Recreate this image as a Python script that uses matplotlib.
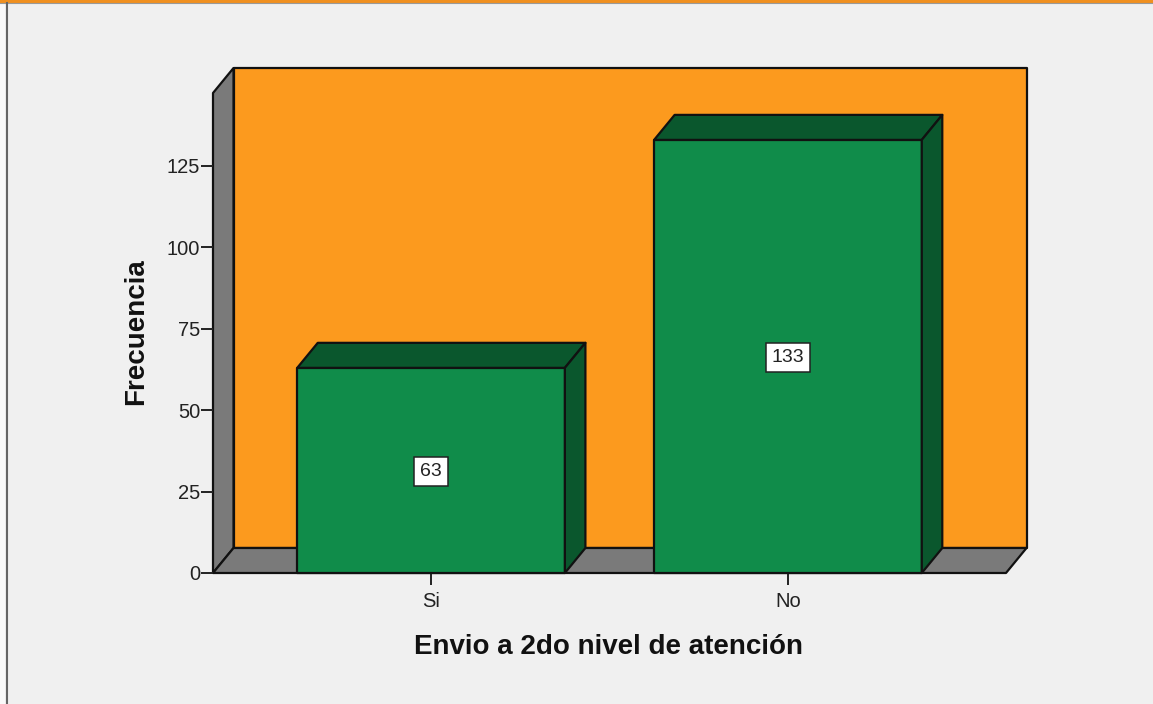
import matplotlib
matplotlib.use('Agg')
import matplotlib.pyplot as plt
from matplotlib.patches import Polygon
from matplotlib.lines import Line2D

categories = ['Si', 'No']
counts = [63, 133]
y_ticks = [0, 25, 50, 75, 100, 125]

plt.rcParams['font.family'] = ['Liberation Sans', 'DejaVu Sans']

W, H = 1153, 704
ORANGE = '#FC9A1E'
GREEN = '#108C4A'
DARK_GREEN = '#0A572D'
GREY = '#7A7A7A'
BG = '#F0F0F0'
TEXT = '#222222'

fig = plt.figure(figsize=(W / 100, H / 100), dpi=100, facecolor=BG)

# front plane of the 3D box, in figure pixels
left, right, bottom, top = 213, 1006, 573, 93
ax = fig.add_axes([left / W, (H - bottom) / H, (right - left) / W, (bottom - top) / H])
ax.set_xlim(-0.611, 1.611)
ax.set_ylim(0, 147.4)
ax.patch.set_visible(False)
for s in ax.spines.values():
    s.set_visible(False)

# depth of the box
dx = 0.0575
dy = 7.68
x0, x1 = ax.get_xlim()
y0, y1 = ax.get_ylim()
edge = dict(edgecolor='#111111', linewidth=1.6, clip_on=False, joinstyle='round')


def poly(points, color, z):
    ax.add_patch(Polygon(points, closed=True, facecolor=color, zorder=z, **edge))


# walls and floor
poly([(x0 + dx, y0 + dy), (x1 + dx, y0 + dy), (x1 + dx, y1 + dy), (x0 + dx, y1 + dy)], ORANGE, 1)
poly([(x0, y0), (x0 + dx, y0 + dy), (x0 + dx, y1 + dy), (x0, y1)], GREY, 1)
poly([(x0, y0), (x1, y0), (x1 + dx, y0 + dy), (x0 + dx, y0 + dy)], GREY, 1)

# bars with top and side faces
bar_w = 0.75
for i, n in enumerate(counts):
    a, b = i - bar_w / 2, i + bar_w / 2
    poly([(a, 0), (b, 0), (b, n), (a, n)], GREEN, 3)
    poly([(a, n), (b, n), (b + dx, n + dy), (a + dx, n + dy)], DARK_GREEN, 3)
    poly([(b, 0), (b + dx, dy), (b + dx, n + dy), (b, n)], DARK_GREEN, 3)
    ax.text(i, n / 2 + 0.3, str(n), ha='center', va='center_baseline', fontsize=14, color=TEXT, zorder=5,
            bbox=dict(boxstyle='square,pad=0.3', facecolor='white', edgecolor='#222222', linewidth=1.1))

ax.set_xticks(range(len(categories)))
ax.set_xticklabels(categories)
ax.set_yticks(y_ticks)
ax.tick_params(axis='both', length=8.8, width=1.4, color='#222222', labelcolor=TEXT, labelsize=14.5)
ax.tick_params(axis='x', pad=5)
ax.tick_params(axis='y', pad=0.5)

fig.text(608.5 / W, 1 - 647 / H, 'Envio a 2do nivel de atención', ha='center', va='center',
         fontsize=20, fontweight='bold', color='#111111')
fig.text(136 / W, 1 - 332 / H, 'Frecuencia', ha='center', va='center', rotation=90,
         fontsize=20, fontweight='bold', color='#111111')

# window border along the top and left
fig.add_artist(Line2D([0, 1], [1 - 1 / H, 1 - 1 / H], color='#F09020', linewidth=2.2))
fig.add_artist(Line2D([0, 1], [1 - 3.2 / H, 1 - 3.2 / H], color='#999999', linewidth=0.8))
fig.add_artist(Line2D([7 / W, 7 / W], [0, 1 - 3 / H], color='#666666', linewidth=1.5))
fig.add_artist(Polygon([(0, 0), (5 / W, 0), (5 / W, 1 - 3 / H), (0, 1 - 3 / H)], closed=True,
                       transform=fig.transFigure, facecolor='#FAFAFA', edgecolor='none'))

fig.savefig('out.png', dpi=100, facecolor=BG)
